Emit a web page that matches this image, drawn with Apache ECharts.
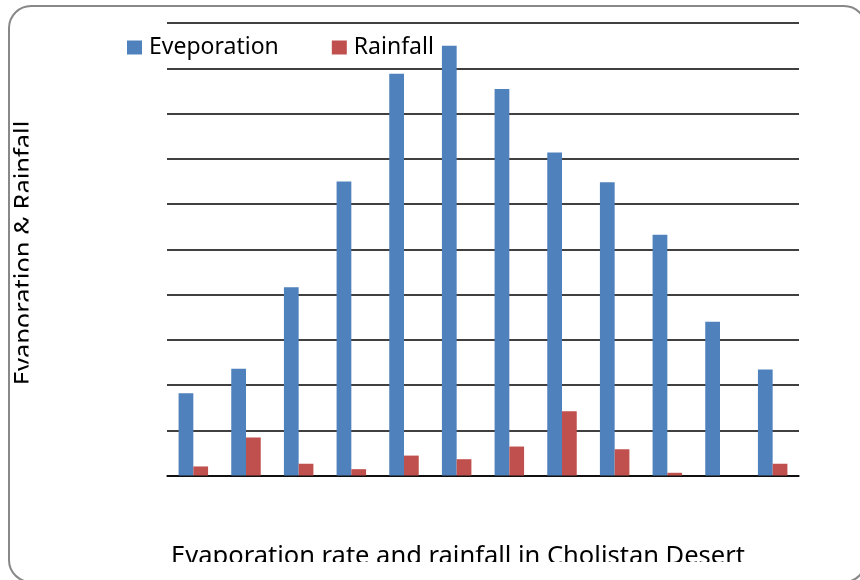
<!DOCTYPE html>
<html>
<head>
<meta charset="utf-8">
<script src="https://cdn.jsdelivr.net/npm/echarts@6/dist/echarts.min.js"></script>
<style>
  html, body { margin: 0; padding: 0; background: #fff; }
  #main { width: 860px; height: 580px; }
</style>
</head>
<body>
<div id="main"></div>
<script>
// months (not labelled in the picture)
var months = ['Jan', 'Feb', 'Mar', 'Apr', 'May', 'Jun', 'Jul', 'Aug', 'Sep', 'Oct', 'Nov', 'Dec'];
// values, on a 0-500 scale with 10 gridlines
var evaporation = [91, 118, 208, 325, 444, 475, 427, 357, 324, 266, 170, 117];
var rainfall = [10, 42, 13, 7, 22, 18, 32, 71, 29, 3, 0, 13];
var seriesNames = ['Eveporation', 'Rainfall'];

var font = 'Noto Sans';
var myChart = echarts.init(document.getElementById('main'));

myChart.setOption({
    backgroundColor: '#fff',
    animation: false,
    grid: { left: 167, right: 61, top: 23, bottom: 104.5, containLabel: false },
    legend: {
        data: seriesNames,
        left: 127,
        top: 36,
        padding: 0,
        icon: 'rect',
        itemWidth: 15,
        itemHeight: 14,
        itemGap: 53,
        textStyle: {
            fontFamily: font,
            fontSize: 23,
            color: '#000',
            padding: [0, 0, 0, 2]
        }
    },
    xAxis: {
        type: 'category',
        data: months,
        axisLine: { lineStyle: { color: '#000', width: 1.5 } },
        axisTick: { show: false },
        axisLabel: { show: false }
    },
    yAxis: {
        type: 'value',
        min: 0,
        max: 500,
        interval: 50,
        axisLine: { show: false },
        axisTick: { show: false },
        axisLabel: { show: false },
        splitLine: { lineStyle: { color: '#000', width: 1.5 } }
    },
    series: [{
        name: seriesNames[0],
        type: 'bar',
        data: evaporation,
        barGap: '0%',
        barCategoryGap: '44%',
        itemStyle: { color: '#4f81bd' }
    }, {
        name: seriesNames[1],
        type: 'bar',
        data: rainfall,
        itemStyle: { color: '#c0504d' }
    }],
    graphic: [
        // rounded chart frame
        {
            type: 'rect',
            shape: { x: 9, y: 6, width: 857, height: 576, r: 22 },
            style: { fill: null, stroke: '#888', lineWidth: 2 },
            z: 10
        },
        // y axis title
        {
            type: 'text',
            x: 25,
            y: 253,
            rotation: Math.PI / 2,
            style: {
                text: 'Evaporation & Rainfall',
                font: '25.5px "Noto Sans"',
                fill: '#000',
                textAlign: 'center',
                textVerticalAlign: 'middle'
            },
            z: 5
        },
        // x axis title
        {
            type: 'text',
            x: 458,
            y: 557,
            style: {
                text: 'Evaporation rate and rainfall in Cholistan Desert',
                font: '25.5px "Noto Sans"',
                fill: '#000',
                textAlign: 'center',
                textVerticalAlign: 'middle'
            },
            z: 5
        },
        // the titles are cut off in the original
        {
            type: 'rect',
            shape: { x: 28.5, y: 90, width: 12, height: 320 },
            style: { fill: '#fff' },
            z: 6
        },
        {
            type: 'rect',
            shape: { x: 140, y: 562, width: 640, height: 20 },
            style: { fill: '#fff' },
            z: 6
        }
    ]
});
</script>
</body>
</html>
